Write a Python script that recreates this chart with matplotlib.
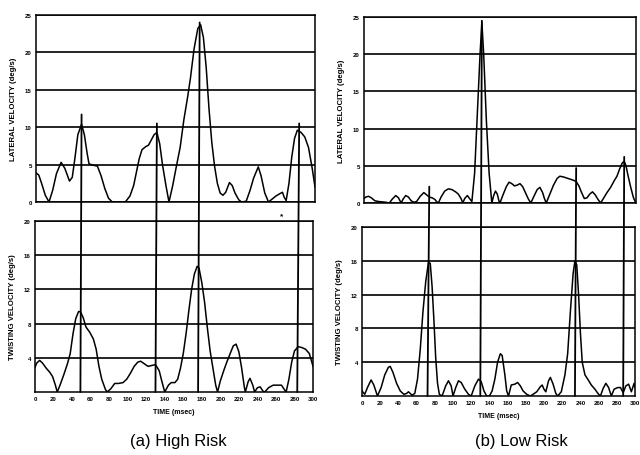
import matplotlib
matplotlib.use("Agg")
import matplotlib.pyplot as plt
from matplotlib.patches import ConnectionPatch

plt.rcParams['font.family'] = ['Liberation Sans', 'DejaVu Sans']

# ---------------- data ----------------
# (a) High Risk - lateral velocity (deg/s)
hr_lat_t = [0, 3, 6, 10, 14, 18, 22, 27, 31, 36, 39, 42, 45, 49, 52, 55, 57, 62, 66, 70, 74, 78, 82, 96,
            101, 105, 108, 111, 114, 118, 121, 124, 127, 130, 133, 136, 140, 143, 147, 151, 155, 159, 163,
            166, 170, 174, 177, 180, 183, 186, 189, 192, 195, 198, 201, 204, 208, 211, 214, 218, 221, 226,
            230, 234, 239, 242, 246, 250, 254, 258, 262, 265, 267, 269, 272, 275, 278, 281, 285, 289, 293,
            297, 300]
hr_lat_v = [3.9, 3.6, 2.5, 0.9, 0.0, 1.6, 3.8, 5.3, 4.5, 2.8, 3.3, 6.0, 9.0, 10.4, 9.0, 6.5, 5.1, 4.9, 4.8,
            3.5, 1.8, 0.5, 0.0, 0.0, 0.8, 2.2, 4.0, 5.8, 7.0, 7.4, 7.6, 8.3, 9.0, 9.3, 7.8, 5.0, 2.0, 0.0,
            2.2, 4.8, 7.3, 11.0, 14.0, 16.5, 20.5, 23.2, 23.7, 22.0, 18.0, 12.5, 8.0, 4.8, 2.5, 1.2, 0.9,
            1.3, 2.6, 2.2, 1.2, 0.3, 0.0, 0.1, 1.5, 3.2, 4.7, 3.5, 1.2, 0.0, 0.4, 0.8, 1.1, 1.3, 0.6, 0.2,
            2.5, 6.0, 8.5, 9.6, 9.3, 8.7, 7.3, 4.5, 2.0]

# (a) High Risk - twisting velocity (deg/s)
hr_tw_t = [0, 2, 5, 8, 12, 16, 19, 22, 24, 27, 31, 35, 38, 41, 44, 47, 49, 52, 55, 59, 63, 66, 69, 72, 76,
           78, 82, 86, 90, 95, 99, 103, 107, 111, 114, 118, 122, 126, 130, 134, 137, 140, 144, 147, 151,
           154, 157, 160, 163, 166, 169, 172, 175, 177, 180, 183, 186, 189, 192, 195, 197, 200, 204, 207,
           211, 214, 217, 220, 223, 226, 227, 230, 232, 235, 237, 240, 243, 246, 248, 252, 257, 262, 266,
           269, 271, 274, 277, 280, 284, 288, 292, 296, 299, 300]
hr_tw_v = [2.9, 3.4, 3.7, 3.4, 2.8, 2.3, 1.8, 0.8, 0.0, 0.8, 2.0, 3.3, 4.5, 6.8, 8.6, 9.4, 9.4, 8.7, 7.6,
           7.0, 6.2, 5.0, 3.0, 1.5, 0.3, 0.0, 0.4, 1.0, 1.0, 1.1, 1.5, 2.2, 3.0, 3.5, 3.6, 3.3, 3.0, 3.1,
           3.2, 2.5, 1.2, 0.0, 0.8, 1.1, 1.1, 1.5, 2.8, 4.5, 6.8, 9.5, 12.0, 13.8, 14.7, 14.5, 12.8, 10.5,
           7.5, 4.8, 2.8, 0.8, 0.0, 1.3, 2.6, 3.5, 4.6, 5.4, 5.6, 4.7, 2.8, 0.5, 0.0, 1.2, 1.6, 0.8, 0.0,
           0.5, 0.6, 0.1, 0.0, 0.5, 0.8, 0.8, 0.8, 0.3, 0.0, 1.5, 3.5, 4.8, 5.3, 5.2, 5.0, 4.5, 3.4, 3.0]

# (b) Low Risk - lateral velocity (deg/s)
lr_lat_t = [0, 2, 5, 8, 12, 16, 20, 24, 28, 31, 35, 38, 41, 43, 46, 49, 52, 55, 58, 62, 66, 69, 72, 75, 78,
            80, 82, 85, 89, 93, 97, 101, 104, 107, 109, 111, 114, 117, 119, 122, 125, 128, 130, 132, 135,
            138, 141, 143, 145, 147, 149, 150, 153, 157, 160, 163, 166, 169, 172, 175, 178, 181, 184, 187,
            191, 194, 197, 199, 201, 205, 209, 213, 216, 220, 225, 230, 234, 237, 240, 243, 246, 249, 252,
            255, 258, 261, 264, 268, 272, 276, 279, 282, 285, 287, 289, 291, 294, 297, 299, 300]
lr_lat_v = [0.6, 0.8, 0.9, 0.7, 0.3, 0.2, 0.15, 0.1, 0.0, 0.5, 1.0, 0.7, 0.0, 0.5, 1.0, 0.8, 0.3, 0.1, 0.2,
            0.9, 1.4, 1.1, 0.8, 0.7, 0.5, 0.2, 0.0, 0.8, 1.6, 1.9, 1.8, 1.5, 1.2, 0.6, 0.0, 0.6, 1.0, 0.5,
            0.2, 4.0, 12.0, 20.0, 24.3, 20.0, 11.0, 4.0, 0.0, 1.0, 1.6, 1.2, 0.2, 0.0, 1.0, 2.2, 2.8, 2.6,
            2.3, 2.4, 2.6, 2.2, 1.4, 0.6, 0.0, 0.8, 1.8, 2.1, 1.4, 0.6, 0.0, 1.2, 2.4, 3.3, 3.6, 3.5, 3.3,
            3.1, 2.9, 2.3, 1.4, 0.6, 0.7, 1.2, 1.5, 1.1, 0.5, 0.0, 0.6, 1.4, 2.1, 3.0, 3.6, 4.6, 5.4, 5.6,
            5.0, 3.8, 2.2, 0.8, 0.2, 0.0]

# (b) Low Risk - twisting velocity (deg/s)
lr_tw_t = [0, 3, 6, 10, 13, 17, 21, 25, 29, 31, 34, 38, 42, 46, 49, 51, 55, 58, 61, 64, 67, 70, 73, 75, 77,
           79, 81, 83, 85, 88, 92, 95, 98, 100, 103, 106, 109, 113, 117, 120, 124, 128, 131, 134, 137, 140,
           143, 146, 149, 152, 154, 157, 159, 161, 164, 168, 171, 174, 177, 181, 185, 188, 192, 196, 198,
           200, 202, 205, 207, 210, 213, 215, 219, 223, 226, 229, 232, 234, 236, 238, 240, 242, 245, 248,
           252, 256, 260, 262, 265, 268, 271, 274, 277, 281, 284, 287, 290, 293, 296, 299, 300]
lr_tw_v = [0.6, 0.2, 1.0, 1.9, 1.3, 0.0, 1.0, 2.5, 3.4, 3.5, 2.8, 1.5, 0.6, 0.2, 0.3, 0.5, 0.1, 0.3, 2.0,
           5.5, 10.0, 13.5, 15.8, 15.7, 13.0, 9.0, 4.5, 1.5, 0.2, 0.0, 1.2, 1.8, 1.2, 0.0, 1.0, 1.8, 1.6,
           0.8, 0.2, 0.0, 1.2, 2.0, 1.7, 0.6, 0.0, 0.0, 0.6, 2.0, 4.0, 5.0, 4.8, 2.5, 0.6, 0.0, 1.3, 1.4,
           1.6, 1.2, 0.6, 0.2, 0.0, 0.2, 0.5, 1.1, 1.3, 0.8, 0.5, 1.8, 2.2, 1.4, 0.3, 0.0, 0.5, 2.5, 5.0,
           10.0, 14.5, 16.0, 15.5, 12.0, 7.5, 4.0, 2.5, 2.0, 1.3, 0.8, 0.2, 0.0, 0.9, 1.5, 1.0, 0.0, 0.8,
           1.0, 1.0, 0.4, 1.2, 1.4, 0.5, 1.5, 1.0]

# vertical marker lines: time and height reached in the lateral panel
hr_mark_t = [49, 130, 176, 283]
hr_mark_top = [11.7, 10.5, 24.0, 10.5]
lr_mark_t = [72, 130, 234, 287]
lr_mark_top = [2.2, 24.5, 4.7, 6.2]

lat_ticks = [0, 5, 10, 15, 20, 25]
tw_ticks = [4, 8, 12, 16, 20]
time_ticks = list(range(0, 301, 20))
captions = ["(a) High Risk", "(b) Low Risk"]

# ---------------- figure ----------------
W, H = 640, 456
fig = plt.figure(figsize=(6.4, 4.56), dpi=100)


def box(x0, y0, x1, y1):
    return [x0 / W, 1 - y1 / H, (x1 - x0) / W, (y1 - y0) / H]


tick_kw = dict(fontsize=4.4, fontweight='bold')


def style(ax, ymax, yticks, bottom):
    ax.set_xlim(0, 300)
    ax.set_ylim(0, ymax)
    ax.set_yticks(yticks)
    ax.set_yticklabels([str(v) for v in yticks], **tick_kw)
    ax.yaxis.grid(True, color='black', linewidth=1.2)
    ax.xaxis.grid(False)
    ax.set_axisbelow(True)
    for s in ax.spines.values():
        s.set_linewidth(1.1)
        s.set_color('black')
    ax.tick_params(length=0, pad=3)
    if bottom:
        ax.set_xticks(time_ticks)
        ax.set_xticklabels([str(v) for v in time_ticks], **tick_kw)
        ax.set_xlabel("TIME (msec)", fontsize=5, fontweight='bold', labelpad=5)
    else:
        ax.set_xticks([])


panels = [
    dict(top=(36, 16, 315, 203), bot=(35, 222, 313, 393),
         lat=(hr_lat_t, hr_lat_v), tw=(hr_tw_t, hr_tw_v),
         mt=hr_mark_t, mtop=hr_mark_top, cap=captions[0], capx=178),
    dict(top=(364, 18, 636, 204), bot=(362, 228, 635, 397),
         lat=(lr_lat_t, lr_lat_v), tw=(lr_tw_t, lr_tw_v),
         mt=lr_mark_t, mtop=lr_mark_top, cap=captions[1], capx=521),
]

for p in panels:
    ax1 = fig.add_axes(box(*p['top']))
    ax2 = fig.add_axes(box(*p['bot']))
    style(ax1, 25, lat_ticks, False)
    style(ax2, 20, tw_ticks, True)
    ax1.plot(*p['lat'], color='black', linewidth=1.1, solid_joinstyle='round')
    ax2.plot(*p['tw'], color='black', linewidth=1.1, solid_joinstyle='round')
    ax1.set_ylabel("LATERAL VELOCITY (deg/s)", fontsize=5.6, fontweight='bold', labelpad=6)
    ax2.set_ylabel("TWISTING VELOCITY (deg/s)", fontsize=5.6, fontweight='bold', labelpad=6)
    for t, top in zip(p['mt'], p['mtop']):
        con = ConnectionPatch(xyA=(t, 0), coordsA=ax2.transData,
                              xyB=(t, top), coordsB=ax1.transData,
                              color='black', linewidth=1.3)
        fig.add_artist(con)
    fig.text(p['capx'] / W, 1 - 442 / H, p['cap'], fontsize=12, ha='center', va='center')

fig.text(282 / W, 1 - 217 / H, "*", fontsize=6, fontweight='bold', ha='center', va='center')

fig.savefig("out.png", dpi=100)
